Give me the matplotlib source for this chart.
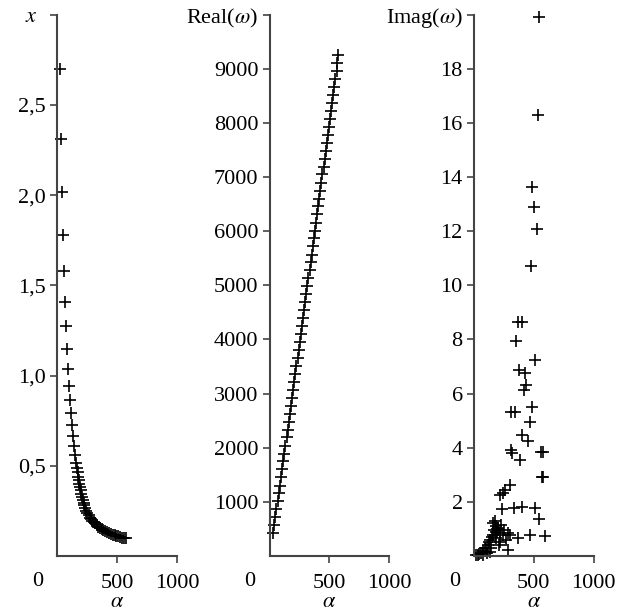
import matplotlib
matplotlib.use("Agg")
import matplotlib.pyplot as plt
import matplotlib.transforms as mtransforms

plt.rcParams["font.family"] = ["Liberation Serif", "DejaVu Serif"]
plt.rcParams["mathtext.fontset"] = "stix"

# panel 1: x vs alpha
x_alpha = [27, 33, 39, 50, 60, 68, 75, 84, 93, 101, 107, 114, 122, 131, 141, 150, 158,
           165, 170, 175, 180, 185, 190, 196, 202, 208, 214, 221, 228, 236, 244, 253,
           262, 272, 283, 294, 305, 317, 330, 343, 357, 371, 386, 401, 416, 431, 447,
           463, 479, 495, 511, 527, 543, 559, 575]
x_vals = [2.70, 2.31, 2.02, 1.78, 1.58, 1.41, 1.274, 1.148, 1.039, 0.944, 0.867, 0.793,
          0.728, 0.667, 0.611, 0.561, 0.515,
          0.49, 0.465, 0.44, 0.42, 0.40, 0.385, 0.365, 0.345, 0.328, 0.311, 0.296,
          0.28, 0.265, 0.25, 0.237, 0.225, 0.213, 0.203, 0.195, 0.188, 0.181, 0.172,
          0.163, 0.156, 0.15, 0.144, 0.138, 0.132, 0.127, 0.122, 0.118, 0.114, 0.111,
          0.108, 0.105, 0.102, 0.099, 0.097]

# panel 2: Real(omega) vs alpha
re_alpha = [31, 40, 49, 58, 68, 77, 86, 96, 105, 114, 123, 133, 142, 151, 160, 170,
            179, 188, 197, 207, 216, 225, 234, 244, 253, 262, 271, 280, 289, 298, 307,
            316, 325, 334, 343, 352, 361, 370, 379, 388, 397, 406, 415, 424, 433, 442,
            451, 460, 469, 478, 487, 496, 505, 514, 523, 532, 541, 550, 559, 567, 575]
re_vals = [420, 570, 720, 860, 1010, 1160, 1300, 1450, 1600, 1750, 1890, 2040, 2190,
           2330, 2480, 2630, 2780, 2920, 3070, 3220, 3360, 3510, 3660, 3810, 3950, 4100,
           4250, 4400, 4540, 4690, 4840, 4980, 5130, 5280, 5430, 5570, 5720, 5870, 6010,
           6160, 6310, 6460, 6600, 6750, 6900, 7050, 7190, 7340, 7490, 7630, 7780, 7930,
           8080, 8220, 8370, 8520, 8670, 8810, 8960, 9110, 9260]

# panel 3: Imag(omega) vs alpha
im_alpha = [544, 539, 489, 503, 531, 475, 370, 398, 356, 508, 378, 425, 439, 417, 314,
            342, 489, 467, 398, 453, 314, 322, 383, 564, 578, 566, 576, 304, 259, 240,
            217, 237, 334, 403, 514, 544, 592, 467, 369, 300, 244, 286,
            36, 56, 78, 100, 119, 139, 161, 169, 183, 161, 203, 217, 189, 147, 106, 78,
            217, 286, 189, 131, 20, 45, 90, 125, 150, 175, 196, 230, 255, 210, 265]
im_vals = [19.9, 16.3, 13.65, 12.9, 12.1, 10.7, 8.64, 8.64, 7.94, 7.26, 6.89, 6.77,
           6.33, 6.15, 5.31, 5.31, 5.49, 4.94, 4.48, 4.23, 3.93, 3.8, 3.56, 3.86, 3.86,
           2.92, 2.92, 2.63, 2.44, 2.32, 2.26, 1.73, 1.77, 1.8, 1.77, 1.36, 0.72, 0.78,
           0.66, 0.78, 0.78, 0.22,
           0.04, 0.1, 0.2, 0.28, 0.41, 0.59, 0.78, 0.96, 1.11, 1.21, 1.03, 0.84, 0.66,
           0.28, 0.1, 0.04, 0.53, 0.84, 0.9, 0.14, 0.02, 0.06, 0.3, 0.5, 0.7, 1.3,
           1.0, 1.15, 0.95, 0.4, 0.6]

panels = [
    (x_alpha, x_vals, 3.0, [0.5, 1.0, 1.5, 2.0, 2.5, 3.0],
     ["0,5", "1,0", "1,5", "2,0", "2,5", "$x$"]),
    (re_alpha, re_vals, 10000, [1000, 2000, 3000, 4000, 5000, 6000, 7000, 8000, 9000, 10000],
     ["1000", "2000", "3000", "4000", "5000", "6000", "7000", "8000", "9000",
      r"Real($\omega$)"]),
    (im_alpha, im_vals, 20, [2, 4, 6, 8, 10, 12, 14, 16, 18, 20],
     ["2", "4", "6", "8", "10", "12", "14", "16", "18", r"Imag($\omega$)"]),
]
lefts = [0.092, 0.434, 0.763]

fig = plt.figure(figsize=(6.21, 6.15), dpi=100)
spine_color = "#444444"

axes = []
for left, (xs, ys, ymax, yt, ylabels) in zip(lefts, panels):
    ax = fig.add_axes([left, 0.096, 0.193, 0.88])
    ax.plot(xs, ys, linestyle="none", marker="+", markersize=9, markeredgewidth=1.2,
            color="black", clip_on=False)
    ax.set_xlim(0, 1000)
    ax.set_ylim(0, ymax)
    ax.set_xticks([500, 1000])
    ax.set_xticklabels(["500", "1000"])
    ax.set_yticks(yt)
    ax.set_yticklabels(ylabels)
    for side in ["top", "right"]:
        ax.spines[side].set_visible(False)
    for side in ["left", "bottom"]:
        ax.spines[side].set_color(spine_color)
        ax.spines[side].set_linewidth(1.5)
    ax.tick_params(direction="out", length=5, width=1.2, color=spine_color,
                   labelsize=16, pad=3)
    ax.tick_params(axis="x", pad=8)
    ax.annotate("0", xy=(0, 0), xycoords="axes fraction", xytext=(-14, -11.5),
                textcoords="offset points", ha="center", va="top", fontsize=16)
    ax.set_xlabel(r"$\alpha$", fontsize=16, labelpad=0)
    axes.append(ax)

# the "x" name sits a little further left than the tick numbers
top_label = axes[0].get_yticklabels()[-1]
top_label.set_transform(top_label.get_transform() +
                        mtransforms.ScaledTranslation(-8 / 100, 0, fig.dpi_scale_trans))

fig.savefig("out.png", dpi=100)
